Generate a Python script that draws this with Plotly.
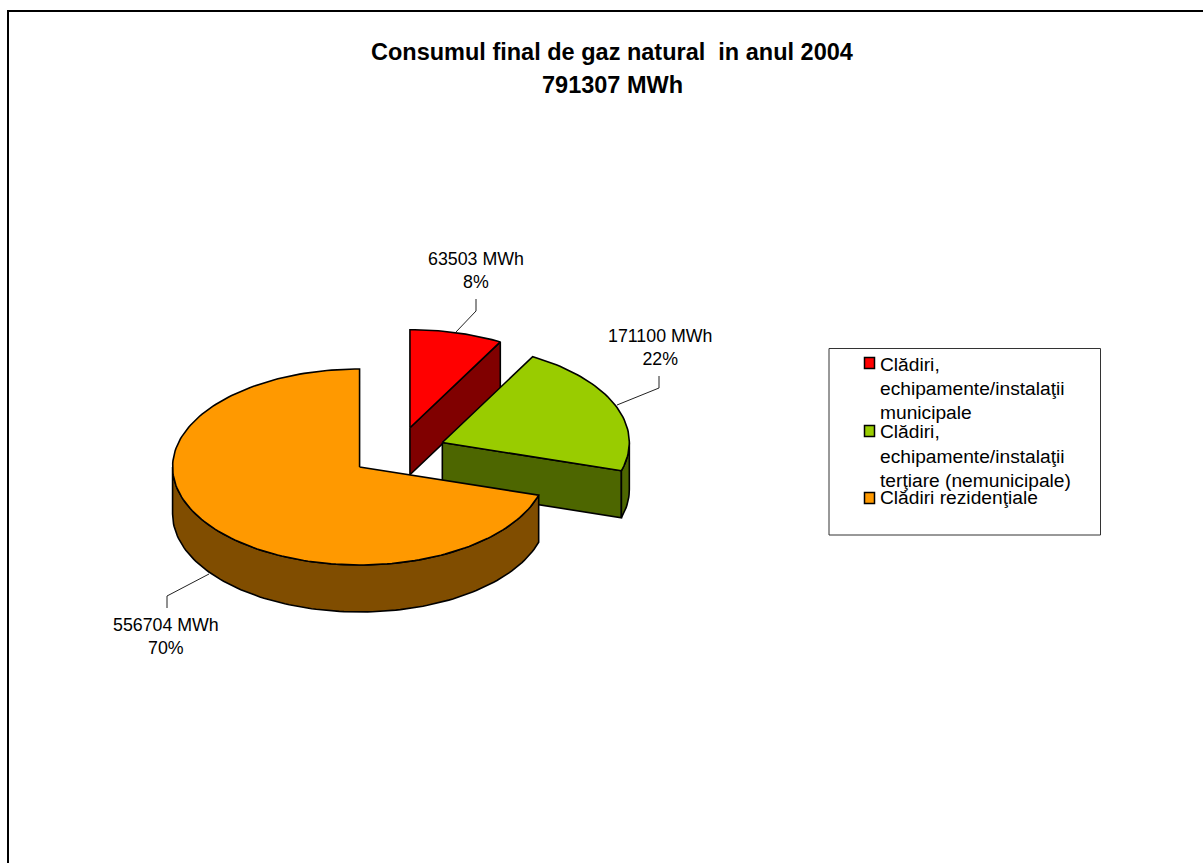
import math
import plotly.graph_objects as go

# ---- data ----
categories = ["Clădiri,<br>echipamente/instalaţii<br>municipale",
              "Clădiri,<br>echipamente/instalaţii<br>terţiare (nemunicipale)",
              "Clădiri rezidenţiale"]
values_mwh = [63503, 171100, 556704]
percent_labels = ["8%", "22%", "70%"]
title_lines = ["Consumul final de gaz natural  in anul 2004", "791307 MWh"]
top_colors = ["#FF0000", "#99CC00", "#FF9900"]
side_colors = ["#800000", "#4D6600", "#804D00"]

# ---- 3-D projection parameters (pixels) ----
W, H = 1203, 863
CX, CY = 398, 452      # un-exploded centre
RX, RY = 187, 98
DEPTH = 47
EXPLODE = 0.256
FONT = "Liberation Sans"

total = sum(values_mwh)
fig = go.Figure()


def point(cx, cy, a):
    return cx + RX * math.sin(a), cy - RY * math.cos(a)


def add_poly(pts, fill):
    xs = [p[0] for p in pts] + [pts[0][0]]
    ys = [p[1] for p in pts] + [pts[0][1]]
    fig.add_trace(go.Scatter(x=xs, y=ys, mode="lines", fill="toself", fillcolor=fill,
                             line=dict(color="#000000", width=1.6), hoverinfo="skip",
                             showlegend=False))


def arc(cx, cy, a0, a1):
    n = max(4, int(abs(a1 - a0) * 40))
    return [point(cx, cy, a0 + (a1 - a0) * i / n) for i in range(n + 1)]


# slice angles, clockwise from 12 o'clock
angles = []
start = 0.0
for v in values_mwh:
    end = start + 2 * math.pi * v / total
    angles.append((start, end))
    start = end

centres = []
for (a0, a1) in angles:
    mid = (a0 + a1) / 2
    centres.append((CX + EXPLODE * RX * math.sin(mid), CY - EXPLODE * RY * math.cos(mid)))

# back to front: red, green, orange
for i in range(3):
    (a0, a1), (cx, cy) = angles[i], centres[i]
    w0, w1 = max(a0, math.pi / 2), min(a1, 3 * math.pi / 2)
    if i < 2:
        px, py = point(cx, cy, a1)
        add_poly([(cx, cy), (px, py), (px, py + DEPTH), (cx, cy + DEPTH)], side_colors[i])
    if w1 > w0:
        top = arc(cx, cy, w0, w1)
        bottom = [(x, y + DEPTH) for x, y in reversed(top)]
        add_poly(top + bottom, side_colors[i])
    add_poly([(cx, cy)] + arc(cx, cy, a0, a1), top_colors[i])

# ---- data labels and leader lines ----
label_pos = [(476, 270), (660, 347), (166, 636)]
leaders = [[(476, 299), (476, 311), (456, 332)],
           [(659, 376), (659, 388), (617, 405)],
           [(167, 608), (167, 596), (209, 574)]]
for i, v in enumerate(values_mwh):
    xs, ys = zip(*leaders[i])
    fig.add_trace(go.Scatter(x=xs, y=ys, mode="lines", line=dict(color="#222222", width=1),
                             hoverinfo="skip", showlegend=False))
    fig.add_annotation(x=label_pos[i][0], y=label_pos[i][1], xref="x", yref="y",
                       text=f"{v} MWh<br>{percent_labels[i]}", showarrow=False,
                       font=dict(family=FONT, size=17.8, color="#000000"), align="center")

# ---- frame and legend box ----
shapes = [
    dict(type="line", x0=8, x1=W, y0=11, y1=11, line=dict(color="#000000", width=2)),
    dict(type="line", x0=8, x1=8, y0=10, y1=H, line=dict(color="#000000", width=2)),
    dict(type="rect", x0=829, x1=1100.5, y0=348.5, y1=535, line=dict(color="#333333", width=1)),
]
swatch_y = [363, 431, 498]
legend_line_y = [[364, 388, 412], [431, 456, 480], [497]]
for i, cat in enumerate(categories):
    shapes.append(dict(type="rect", x0=864.5, x1=874.5, y0=swatch_y[i] - 5.5, y1=swatch_y[i] + 5.5,
                       fillcolor=top_colors[i], line=dict(color="#000000", width=1.5)))
    for line, y in zip(cat.split("<br>"), legend_line_y[i]):
        fig.add_annotation(x=878, y=y, xref="x", yref="y", xanchor="left", yanchor="middle",
                           text=line, showarrow=False, align="left",
                           font=dict(family=FONT, size=19.2, color="#000000"))

for line, y in zip(title_lines, (52, 85)):
    fig.add_annotation(x=612, y=y, xref="x", yref="y", text="<b>" + line + "</b>",
                       showarrow=False, align="center",
                       font=dict(family=FONT, size=23.5, color="#000000"))

fig.update_layout(
    width=W, height=H, margin=dict(l=0, r=0, t=0, b=0), autosize=False,
    paper_bgcolor="#FFFFFF", plot_bgcolor="#FFFFFF", showlegend=False, shapes=shapes,
    xaxis=dict(range=[0, W], visible=False, fixedrange=True),
    yaxis=dict(range=[H, 0], visible=False, fixedrange=True),
)
fig.write_html("out.html", config={"displayModeBar": False},
               include_plotlyjs=True, full_html=True,
               default_width=W, default_height=H,
               post_script="document.body.style.margin='0';document.body.style.overflow='hidden';")
